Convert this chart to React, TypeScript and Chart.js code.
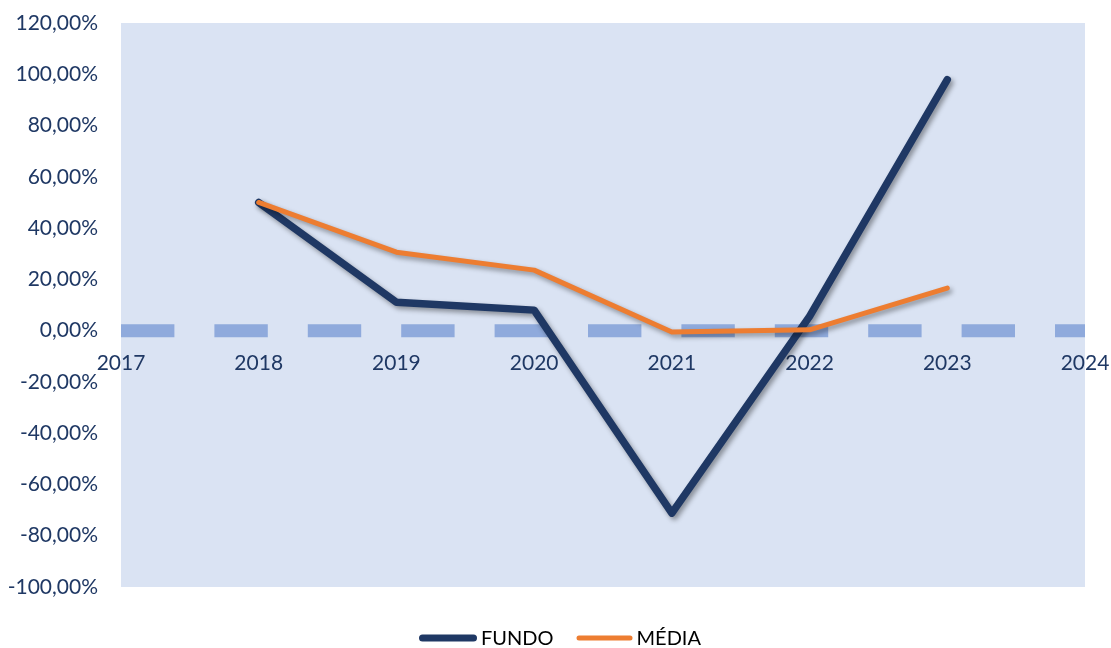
import React, { useEffect, useRef } from 'react';
import { Chart, registerables } from 'chart.js';

Chart.register(...registerables);

const years = [2018, 2019, 2020, 2021, 2022, 2023];
const fundo = [50, 11.1, 8.0, -71.2, 5.6, 97.9];
const media = [50, 30.6, 23.6, -0.5, 0.3, 16.6];
const zeroLineYears = [2017, 2024];
const seriesNames = ['FUNDO', 'MÉDIA'];
const yMin = -100;
const yMax = 120;
const yStep = 20;
const xMin = 2017;
const xMax = 2024;

const NAVY = '#1f3864';
const ORANGE = '#ed7d31';
const DASH = '#8faadc';
const PLOT_BG = '#dae3f3';
const TEXT = '#1f3864';

const plotBgPlugin = {
  id: 'plotBg',
  beforeDraw(chart: any) {
    const { ctx, chartArea } = chart;
    if (!chartArea) return;
    ctx.save();
    ctx.fillStyle = PLOT_BG;
    ctx.fillRect(chartArea.left, chartArea.top, chartArea.right - chartArea.left, chartArea.bottom - chartArea.top);
    ctx.restore();
  },
};

const shadowPlugin = {
  id: 'lineShadow',
  beforeDatasetDraw(chart: any, args: any) {
    if (args.index > 1) return;
    const ctx = chart.ctx;
    ctx.save();
    ctx.shadowColor = 'rgba(0,0,0,0.38)';
    ctx.shadowBlur = 5;
    ctx.shadowOffsetX = 2.5;
    ctx.shadowOffsetY = 3;
  },
  afterDatasetDraw(chart: any, args: any) {
    if (args.index > 1) return;
    chart.ctx.restore();
  },
};

// Legend drawn below the plot, from the datasets' own labels and colours
const legendPlugin = {
  id: 'bottomLegend',
  afterDraw(chart: any) {
    const ctx = chart.ctx;
    const items = [0, 1].map((i) => chart.data.datasets[i]);
    const lineLens = [58, 56];
    const lineWidths = [7, 5];
    const textGap = 4;
    const itemGap = 23;
    ctx.save();
    ctx.font = '20px Lato';
    const textWs = items.map((ds: any) => ctx.measureText(ds.label).width);
    let total = 0;
    items.forEach((_: any, i: number) => {
      total += lineLens[i] + textGap + textWs[i];
      if (i < items.length - 1) total += itemGap;
    });
    const cy = 638;
    let x = 560 - total / 2;
    items.forEach((ds: any, i: number) => {
      const lw = lineWidths[i];
      ctx.beginPath();
      ctx.strokeStyle = ds.borderColor;
      ctx.lineWidth = lw;
      ctx.lineCap = 'round';
      ctx.moveTo(x + lw / 2, cy);
      ctx.lineTo(x + lineLens[i] - lw / 2, cy);
      ctx.stroke();
      x += lineLens[i] + textGap;
      ctx.fillStyle = '#000000';
      ctx.textBaseline = 'middle';
      ctx.textAlign = 'left';
      ctx.fillText(ds.label, x, cy + 1);
      x += textWs[i] + itemGap;
    });
    ctx.restore();
  },
};

export default function App() {
  const canvasRef = useRef<HTMLCanvasElement | null>(null);

  useEffect(() => {
    document.body.style.margin = '0';
    const canvas = canvasRef.current;
    if (!canvas) return;

    const chart = new Chart(canvas, {
      type: 'line',
      data: {
        datasets: [
          {
            label: seriesNames[0],
            data: years.map((y, i) => ({ x: y, y: fundo[i] })),
            borderColor: NAVY,
            backgroundColor: NAVY,
            borderWidth: 7.5,
            borderCapStyle: 'round',
            borderJoinStyle: 'round',
            pointRadius: 0,
            tension: 0,
            order: 1,
          },
          {
            label: seriesNames[1],
            data: years.map((y, i) => ({ x: y, y: media[i] })),
            borderColor: ORANGE,
            backgroundColor: ORANGE,
            borderWidth: 5,
            borderCapStyle: 'round',
            borderJoinStyle: 'round',
            pointRadius: 0,
            tension: 0,
            order: 0,
          },
          {
            label: 'zero',
            data: zeroLineYears.map((y) => ({ x: y, y: 0 })),
            borderColor: DASH,
            backgroundColor: DASH,
            borderWidth: 13,
            borderDash: [53.4, 40],
            borderCapStyle: 'butt',
            pointRadius: 0,
            tension: 0,
            order: 2,
          },
        ],
      } as any,
      options: {
        responsive: false,
        animation: false,
        layout: { padding: { left: 0, right: 26, top: 23, bottom: 61 } },
        scales: {
          x: {
            type: 'linear',
            position: { y: 0 } as any,
            min: xMin,
            max: xMax,
            grid: { display: false, drawTicks: false },
            border: { display: false },
            afterFit: (scale: any) => {
              scale.paddingLeft = 0;
              scale.paddingRight = 0;
              scale.paddingTop = 0;
              scale.paddingBottom = 0;
            },
            ticks: {
              stepSize: 1,
              padding: 20,
              color: TEXT,
              font: { family: 'Lato', size: 21 },
              maxRotation: 0,
              autoSkip: false,
              callback: (v: any) => String(v),
            },
          },
          y: {
            type: 'linear',
            min: yMin,
            max: yMax,
            grid: { display: false, drawTicks: false },
            border: { display: false },
            afterFit: (scale: any) => {
              scale.width = 121;
              scale.paddingTop = 0;
              scale.paddingBottom = 0;
            },
            ticks: {
              stepSize: yStep,
              padding: 23,
              color: TEXT,
              font: { family: 'Lato', size: 21 },
              callback: (v: any) => Number(v).toFixed(2).replace('.', ',') + '%',
            },
          },
        },
        plugins: {
          tooltip: { enabled: false },
          legend: { display: false },
        },
      } as any,
      plugins: [plotBgPlugin, shadowPlugin, legendPlugin],
    });

    return () => chart.destroy();
  }, []);

  return (
    <div style={{ width: 1111, height: 648 }}>
      <canvas ref={canvasRef} width={1111} height={648} style={{ display: 'block' }} />
    </div>
  );
}
